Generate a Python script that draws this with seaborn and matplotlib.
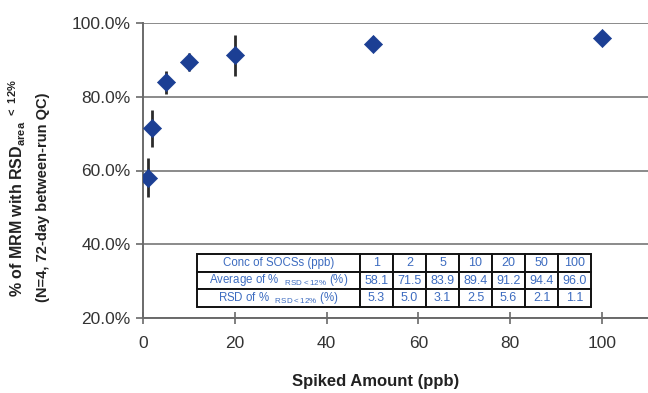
import matplotlib
matplotlib.use("Agg")
import matplotlib.pyplot as plt
import seaborn as sns
import pandas as pd
from matplotlib.ticker import FuncFormatter, MultipleLocator

conc = [1, 2, 5, 10, 20, 50, 100]
average = [58.1, 71.5, 83.9, 89.4, 91.2, 94.4, 96.0]
rsd = [5.3, 5.0, 3.1, 2.5, 5.6, 2.1, 1.1]
conc_labels = ["1", "2", "5", "10", "20", "50", "100"]
avg_labels = ["58.1", "71.5", "83.9", "89.4", "91.2", "94.4", "96.0"]
rsd_labels = ["5.3", "5.0", "3.1", "2.5", "5.6", "2.1", "1.1"]
row_labels = ["Conc of SOCSs (ppb)",
              r"Average of %  ${}_{\mathregular{RSD<12\%}}$ (%)",
              r"RSD of %  ${}_{\mathregular{RSD<12\%}}$ (%)"]

sns.set_theme(style="white")
plt.rcParams["font.family"] = ["Liberation Sans", "DejaVu Sans"]
plt.rcParams["mathtext.fontset"] = "custom"
plt.rcParams["mathtext.rm"] = "Liberation Sans"
plt.rcParams["mathtext.bf"] = "Liberation Sans:bold"

df = pd.DataFrame({"conc": conc, "avg": average, "rsd": rsd})

fig = plt.figure(figsize=(6.48, 3.93), dpi=100)
ax = fig.add_axes([143 / 648, 1 - 318 / 393, 505 / 648, 295 / 393])

ax.set_xlim(0, 110)
ax.set_ylim(20, 100)
ax.yaxis.set_major_locator(MultipleLocator(20))
ax.xaxis.set_major_locator(MultipleLocator(20))
ax.yaxis.grid(True, color="#8a8a8a", lw=1.4)
ax.set_axisbelow(True)

ax.errorbar(df["conc"], df["avg"], yerr=df["rsd"], fmt="none",
            ecolor="#2b2b2b", elinewidth=2.0, capsize=0, zorder=2)
sns.scatterplot(data=df, x="conc", y="avg", marker="D", s=85,
                color="#1c3f94", edgecolor="#1c3f94", linewidth=0.5,
                ax=ax, zorder=3)

for s in ["top", "right"]:
    ax.spines[s].set_visible(False)
for s in ["left", "bottom"]:
    ax.spines[s].set_color("#6a6a6a")
    ax.spines[s].set_linewidth(1.4)

ax.yaxis.set_major_formatter(FuncFormatter(lambda v, p: f"{v:.1f}%"))
ax.set_xticks([0, 20, 40, 60, 80, 100])
ax.tick_params(axis="y", direction="out", length=5, width=1.2, color="#6a6a6a",
               pad=4, labelsize=12.5, labelcolor="#333333", left=True)
ax.tick_params(axis="x", direction="inout", length=8, width=1.2, color="#6a6a6a",
               pad=9, labelsize=12.5, labelcolor="#333333", bottom=True)

ax.set_xlabel("Spiked Amount (ppb)", fontsize=12, fontweight="bold", color="#222222")
ax.xaxis.set_label_coords((376 - 143) / 505, -0.19)
ax.set_ylabel("")

fig.text(17 / 648, 1 - 188 / 393,
         r"% of MRM with RSD$_{\mathbf{area}}$ $^{\mathbf{<\ 12\%}}$",
         rotation=90, ha="center", va="center", fontsize=11.5,
         fontweight="bold", color="#222222")
fig.text(43 / 648, 1 - 197 / 393, "(N=4, 72-day between-run QC)",
         rotation=90, ha="center", va="center", fontsize=10.5,
         fontweight="bold", color="#222222")

cell_text = [[row_labels[0]] + conc_labels,
             [row_labels[1]] + avg_labels,
             [row_labels[2]] + rsd_labels]
x0 = (197 - 143) / 505
w = (591 - 197) / 505
y0 = (318 - 307) / 295
h = (307 - 254) / 295
tbl = ax.table(cellText=cell_text, cellLoc="center",
               colWidths=[163] + [33] * 7,
               bbox=[x0, y0, w, h], zorder=5)
tbl.auto_set_font_size(False)
for (r, c), cell in tbl.get_celld().items():
    cell.set_edgecolor("#111111")
    cell.set_linewidth(1.4)
    cell.set_facecolor("white")
    cell.get_text().set_color("#3d6cc0")
    cell.get_text().set_fontsize(8.3 if c == 0 else 9)

fig.savefig("out.png", dpi=100, facecolor="white")
